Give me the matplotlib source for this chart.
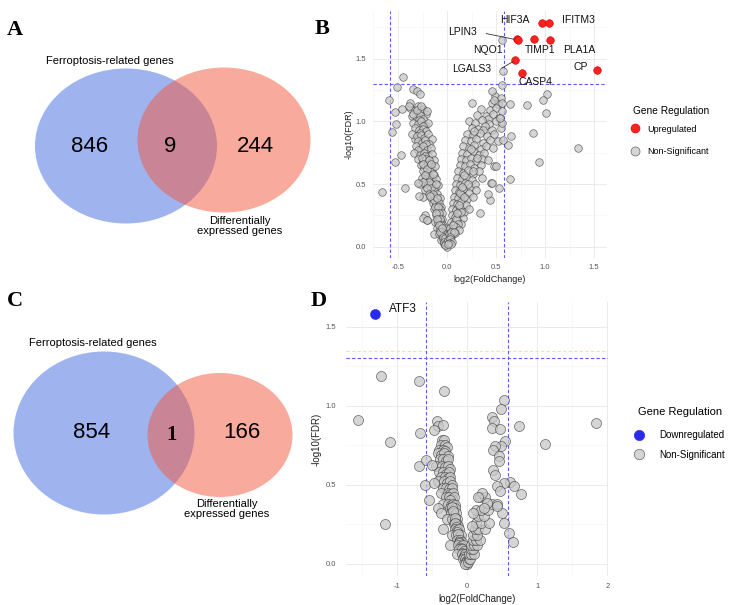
import matplotlib
matplotlib.use("Agg")
import matplotlib.pyplot as plt
from matplotlib.patches import Ellipse
from matplotlib.ticker import MultipleLocator, FormatStrFormatter
from matplotlib.lines import Line2D

plt.rcParams['font.family'] = ['Liberation Sans', 'DejaVu Sans']

# ---------------- data ----------------
venn_a_counts = [846, 9, 244]
venn_c_counts = [854, 1, 166]
set_left = "Ferroptosis-related genes"
set_right = "Differentially\nexpressed genes"

# panel B : upregulated genes
b_up_genes = ["HIF3A", "IFITM3", "LPIN3", "NQO1", "TIMP1", "PLA1A", "LGALS3", "CASP4", "CP"]
b_up_x = [0.973, 1.044, 0.718, 0.725, 0.888, 1.051, 0.697, 0.765, 1.527]
b_up_y = [1.785, 1.785, 1.657, 1.650, 1.657, 1.649, 1.489, 1.383, 1.412]

# panel B : non-significant genes
b_left_arm = [
    (-0.38, 1.11), (-0.33, 1.09), (-0.30, 1.12), (-0.27, 1.08), (-0.24, 1.10), (-0.21, 1.06),
    (-0.36, 1.04), (-0.31, 1.03), (-0.28, 1.05), (-0.25, 1.02), (-0.35, 1.06), (-0.29, 1.01),
    (-0.35, 0.99), (-0.30, 0.98), (-0.27, 1.00), (-0.22, 0.97), (-0.19, 0.99), (-0.24, 0.96),
    (-0.33, 0.95), (-0.29, 0.93), (-0.25, 0.94), (-0.21, 0.92), (-0.28, 0.91), (-0.33, 0.86),
    (-0.36, 0.90), (-0.31, 0.88), (-0.27, 0.89), (-0.23, 0.87), (-0.19, 0.90), (-0.15, 0.86),
    (-0.30, 0.84), (-0.26, 0.83), (-0.22, 0.85), (-0.18, 0.82), (-0.21, 0.82), (-0.25, 0.77),
    (-0.32, 0.80), (-0.27, 0.78), (-0.24, 0.80), (-0.20, 0.77), (-0.16, 0.79), (-0.30, 0.77),
    (-0.34, 0.75), (-0.28, 0.73), (-0.23, 0.75), (-0.19, 0.72), (-0.15, 0.74), (-0.22, 0.72),
    (-0.30, 0.70), (-0.25, 0.68), (-0.21, 0.70), (-0.17, 0.67), (-0.13, 0.69), (-0.26, 0.71),
    (-0.27, 0.65), (-0.23, 0.63), (-0.19, 0.65), (-0.15, 0.62), (-0.12, 0.64), (-0.18, 0.69),
    (-0.24, 0.60), (-0.20, 0.58), (-0.17, 0.60), (-0.13, 0.57), (-0.24, 0.66), (-0.20, 0.62),
    (-0.26, 0.55), (-0.21, 0.54), (-0.17, 0.55), (-0.14, 0.52), (-0.11, 0.54), (-0.16, 0.66),
    (-0.28, 0.50), (-0.19, 0.49), (-0.15, 0.50), (-0.12, 0.47), (-0.09, 0.49), (-0.22, 0.57),
    (-0.22, 0.45), (-0.17, 0.44), (-0.13, 0.45), (-0.10, 0.42), (-0.18, 0.52), (-0.24, 0.52),
    (-0.25, 0.40), (-0.16, 0.39), (-0.12, 0.40), (-0.09, 0.37), (-0.07, 0.39), (-0.14, 0.58),
    (-0.14, 0.35), (-0.11, 0.34), (-0.08, 0.35), (-0.06, 0.32), (-0.16, 0.47), (-0.20, 0.47),
    (-0.13, 0.30), (-0.10, 0.29), (-0.07, 0.30), (-0.05, 0.27), (-0.11, 0.50), (-0.18, 0.42),
    (-0.22, 0.25), (-0.11, 0.25), (-0.08, 0.24), (-0.05, 0.22), (-0.14, 0.42), (-0.13, 0.37),
    (-0.20, 0.21), (-0.12, 0.20), (-0.09, 0.19), (-0.06, 0.20), (-0.04, 0.17), (-0.10, 0.39),
    (-0.10, 0.15), (-0.07, 0.14), (-0.04, 0.13), (-0.02, 0.15), (-0.12, 0.32), (-0.09, 0.32),
    (-0.13, 0.10), (-0.08, 0.10), (-0.05, 0.09), (-0.03, 0.11), (-0.08, 0.27), (-0.11, 0.27),
    (-0.06, 0.05), (-0.04, 0.06), (-0.02, 0.04), (-0.07, 0.22), (-0.10, 0.22), (-0.06, 0.17),
    (-0.03, 0.02), (-0.01, 0.01), (0.00, 0.00), (-0.08, 0.17), (-0.05, 0.12), (-0.07, 0.12),
    (-0.04, 0.08), (-0.02, 0.07), (-0.03, 0.04), (-0.01, 0.03), (-0.02, 0.01), (-0.05, 0.15),
]
b_right_arm = [
    (0.49, 1.20), (0.55, 1.19), (0.46, 1.15), (0.52, 1.14),
    (0.35, 1.10), (0.44, 1.09), (0.50, 1.11), (0.56, 1.08),
    (0.31, 1.05), (0.40, 1.04), (0.47, 1.06), (0.53, 1.03), (0.42, 1.02),
    (0.22, 1.00), (0.29, 0.99), (0.36, 1.01), (0.43, 0.98), (0.50, 1.00),
    (0.25, 0.95), (0.32, 0.94), (0.39, 0.96), (0.46, 0.93), (0.55, 0.95), (0.37, 0.93),
    (0.20, 0.90), (0.27, 0.89), (0.34, 0.91), (0.41, 0.88), (0.48, 0.90), (0.28, 0.92),
    (0.18, 0.85), (0.24, 0.84), (0.30, 0.86), (0.37, 0.83), (0.44, 0.85), (0.52, 0.84),
    (0.16, 0.80), (0.22, 0.79), (0.28, 0.81), (0.35, 0.78), (0.40, 0.80), (0.47, 0.79),
    (0.15, 0.75), (0.20, 0.74), (0.26, 0.76), (0.33, 0.73), (0.38, 0.75), (0.24, 0.78),
    (0.14, 0.70), (0.19, 0.69), (0.24, 0.71), (0.30, 0.68), (0.36, 0.70), (0.42, 0.69),
    (0.13, 0.65), (0.18, 0.64), (0.23, 0.66), (0.28, 0.63), (0.35, 0.65), (0.48, 0.64),
    (0.11, 0.60), (0.16, 0.59), (0.21, 0.61), (0.27, 0.58), (0.33, 0.60), (0.31, 0.71),
    (0.10, 0.55), (0.15, 0.54), (0.19, 0.56), (0.25, 0.53), (0.36, 0.55), (0.26, 0.60),
    (0.09, 0.50), (0.13, 0.49), (0.18, 0.51), (0.23, 0.48), (0.29, 0.50), (0.45, 0.51),
    (0.08, 0.45), (0.12, 0.44), (0.16, 0.46), (0.22, 0.43), (0.30, 0.45), (0.21, 0.50),
    (0.07, 0.40), (0.11, 0.39), (0.15, 0.41), (0.20, 0.38), (0.27, 0.40), (0.17, 0.57),
    (0.06, 0.35), (0.10, 0.34), (0.14, 0.36), (0.19, 0.33), (0.13, 0.43), (0.17, 0.40),
    (0.05, 0.30), (0.09, 0.29), (0.13, 0.31), (0.17, 0.28), (0.22, 0.30), (0.15, 0.48),
    (0.05, 0.25), (0.08, 0.24), (0.12, 0.26), (0.16, 0.23), (0.12, 0.33), (0.14, 0.28),
    (0.04, 0.20), (0.07, 0.19), (0.10, 0.21), (0.14, 0.18), (0.09, 0.22), (0.11, 0.18),
    (0.03, 0.15), (0.06, 0.14), (0.09, 0.16), (0.12, 0.13), (0.10, 0.27), (0.06, 0.17),
    (0.02, 0.10), (0.05, 0.09), (0.08, 0.11), (0.04, 0.12), (0.07, 0.12), (0.03, 0.08),
    (0.01, 0.05), (0.03, 0.06), (0.05, 0.04), (0.02, 0.03), (0.04, 0.02), (0.01, 0.02),
]
b_scatter = [
    (-0.667, 0.436), (-0.531, 0.673), (-0.432, 0.468), (-0.469, 0.732), (-0.558, 0.912),
    (-0.520, 0.981), (-0.531, 1.074), (-0.590, 1.172), (-0.507, 1.271), (-0.446, 1.353),
    (-0.344, 1.260), (-0.310, 1.240), (-0.276, 1.216), (-0.378, 1.150), (-0.456, 1.100),
    (-0.384, 1.125), (-0.303, 1.093), (-0.207, 1.080), (-0.270, 1.120), (-0.293, 0.508),
    (-0.282, 0.402), (-0.173, 0.402), (-0.240, 0.229), (-0.207, 0.215), (0.258, 1.146),
    (0.565, 1.646), (0.568, 1.399), (0.565, 1.293), (0.463, 1.245), (0.480, 1.173),
    (0.560, 1.150), (0.643, 1.141), (0.813, 1.133), (1.024, 1.218), (0.976, 1.168),
    (1.007, 1.066), (0.874, 0.907), (0.653, 0.886), (0.626, 0.814), (0.935, 0.673),
    (1.340, 0.787), (0.643, 0.543), (0.530, 0.468), (0.440, 0.375), (0.337, 0.269),
    (0.456, 0.508), (0.558, 0.987), (0.541, 1.027), (0.500, 0.641), (0.422, 0.420),
    (0.575, 0.854),
]

# panel D : downregulated gene
d_down_genes = ["ATF3"]
d_down_x = [-1.314]
d_down_y = [1.58]

# panel D : non-significant genes
d_left_arm = [
    (-0.36, 0.78), (-0.33, 0.78), (-0.34, 0.74), (-0.36, 0.68), (-0.31, 0.68),
    (-0.38, 0.75), (-0.32, 0.75), (-0.29, 0.74), (-0.31, 0.64), (-0.29, 0.60),
    (-0.40, 0.72), (-0.35, 0.72), (-0.31, 0.71), (-0.33, 0.56), (-0.28, 0.57),
    (-0.42, 0.70), (-0.37, 0.69), (-0.33, 0.70), (-0.28, 0.68), (-0.27, 0.50),
    (-0.39, 0.66), (-0.34, 0.66), (-0.30, 0.65), (-0.27, 0.66), (-0.28, 0.53),
    (-0.45, 0.62), (-0.36, 0.62), (-0.32, 0.61), (-0.28, 0.62), (-0.25, 0.60),
    (-0.40, 0.58), (-0.34, 0.58), (-0.30, 0.57), (-0.26, 0.58), (-0.24, 0.46),
    (-0.37, 0.55), (-0.31, 0.55), (-0.27, 0.54), (-0.24, 0.55), (-0.26, 0.44),
    (-0.42, 0.52), (-0.33, 0.52), (-0.29, 0.51), (-0.25, 0.52), (-0.22, 0.50),
    (-0.35, 0.48), (-0.30, 0.48), (-0.26, 0.47), (-0.22, 0.48), (-0.23, 0.43),
    (-0.38, 0.45), (-0.28, 0.45), (-0.24, 0.44), (-0.20, 0.45), (-0.22, 0.40),
    (-0.30, 0.42), (-0.26, 0.42), (-0.22, 0.41), (-0.19, 0.42), (-0.24, 0.40),
    (-0.34, 0.38), (-0.27, 0.38), (-0.23, 0.37), (-0.20, 0.38), (-0.17, 0.37),
    (-0.42, 0.35), (-0.25, 0.35), (-0.21, 0.34), (-0.18, 0.35), (-0.21, 0.36),
    (-0.38, 0.32), (-0.23, 0.32), (-0.19, 0.31), (-0.16, 0.32), (-0.20, 0.33),
    (-0.29, 0.28), (-0.21, 0.28), (-0.17, 0.27), (-0.14, 0.28), (-0.18, 0.29),
    (-0.19, 0.25), (-0.15, 0.25), (-0.13, 0.24), (-0.17, 0.26), (-0.16, 0.23),
    (-0.35, 0.22), (-0.18, 0.22), (-0.14, 0.21), (-0.11, 0.22), (-0.15, 0.20),
    (-0.22, 0.18), (-0.16, 0.18), (-0.12, 0.17), (-0.09, 0.18), (-0.13, 0.19),
    (-0.14, 0.15), (-0.10, 0.15), (-0.08, 0.14), (-0.12, 0.14), (-0.11, 0.13),
    (-0.24, 0.12), (-0.13, 0.12), (-0.09, 0.11), (-0.06, 0.12), (-0.09, 0.10),
    (-0.11, 0.09), (-0.07, 0.09), (-0.05, 0.08), (-0.07, 0.07), (-0.06, 0.05),
    (-0.15, 0.06), (-0.08, 0.06), (-0.05, 0.05), (-0.03, 0.06), (-0.04, 0.04),
    (-0.06, 0.03), (-0.03, 0.03), (-0.01, 0.02), (0.00, 0.00), (-0.02, 0.01),
    (-0.03, 0.00), (0.01, 0.01),
]
d_right_arm = [
    (0.02, 0.03), (0.04, 0.03), (0.03, 0.06), (0.06, 0.06), (0.10, 0.06),
    (0.05, 0.09), (0.08, 0.09), (0.06, 0.12), (0.10, 0.12), (0.14, 0.12),
    (0.08, 0.15), (0.12, 0.15), (0.18, 0.15), (0.09, 0.18), (0.14, 0.18),
    (0.11, 0.22), (0.16, 0.22), (0.25, 0.22), (0.13, 0.26), (0.20, 0.26), (0.31, 0.26),
    (0.16, 0.30), (0.24, 0.30), (0.12, 0.34), (0.20, 0.34), (0.29, 0.34),
    (0.35, 0.38), (0.42, 0.38), (0.18, 0.42), (0.26, 0.42),
]
d_scatter = [
    (-1.562, 0.907), (-1.229, 1.186), (-1.100, 0.768), (-1.167, 0.253), (-0.686, 1.154),
    (-0.671, 0.827), (-0.690, 0.616), (-0.338, 1.095), (-0.433, 0.901), (-0.410, 0.873),
    (-0.348, 0.880), (-0.480, 0.848), (-0.586, 0.654), (-0.600, 0.500), (-0.552, 0.405),
    (-0.505, 0.627), (-0.480, 0.510),
    (0.519, 1.038), (0.481, 0.981), (0.357, 0.928), (0.376, 0.901), (0.357, 0.859),
    (0.471, 0.852), (0.533, 0.774), (0.486, 0.743), (0.400, 0.743), (0.362, 0.717),
    (0.452, 0.679), (0.448, 0.652), (0.367, 0.591), (0.400, 0.563), (0.614, 0.515),
    (0.662, 0.494), (0.519, 0.511), (0.424, 0.489), (0.471, 0.458), (0.771, 0.441),
    (0.733, 0.873), (1.114, 0.759), (1.843, 0.890), (0.590, 0.194), (0.652, 0.135),
    (0.524, 0.257), (0.495, 0.321), (0.424, 0.363), (0.210, 0.447), (0.148, 0.422),
    (0.281, 0.384), (0.233, 0.352), (0.090, 0.321), (0.067, 0.236),
]

fc_cut = 0.585   # log2(1.5)
fdr_cut = 1.301  # -log10(0.05)

W, H = 734, 605
fig = plt.figure(figsize=(W / 100, H / 100), dpi=100)

def box(x0, y0, x1, y1):
    return [x0 / W, 1 - y1 / H, (x1 - x0) / W, (y1 - y0) / H]

# ---------------- Venn panels (A, C) ----------------
vax = fig.add_axes([0, 0, 1, 1])
vax.set_xlim(0, W)
vax.set_ylim(H, 0)
vax.axis('off')

blue = '#4169e1'
red = '#f3573c'

def venn(cb, wb, hb, cr, wr, hr, counts, num_pos, lab_top, lab_bot, serif_mid):
    vax.add_patch(Ellipse(cb, wb, hb, facecolor=blue, alpha=0.5, lw=0))
    vax.add_patch(Ellipse(cr, wr, hr, facecolor=red, alpha=0.5, lw=0))
    for i, (n, p) in enumerate(zip(counts, num_pos)):
        if i == 1 and serif_mid:
            vax.text(p[0], p[1], str(n), ha='center', va='center', fontsize=15,
                     family='Liberation Serif', fontweight='bold')
        else:
            vax.text(p[0], p[1], str(n), ha='center', va='center', fontsize=16)
    vax.text(lab_top[0], lab_top[1], set_left, ha='center', va='center', fontsize=8)
    vax.text(lab_bot[0], lab_bot[1], set_right, ha='center', va='center', fontsize=8,
             linespacing=1.0)

venn((126, 146), 182, 155, (224, 140), 173, 145, venn_a_counts,
     [(90, 146), (170, 146), (255, 146)], (110, 61), (240, 226), False)
venn((104, 433), 181, 163, (220, 435), 145, 124, venn_c_counts,
     [(92, 433), (172, 435), (242, 433)], (93, 343), (227, 509), True)

for lab, (px, py) in zip("ABCD", [(15, 30), (322, 29), (15, 301), (319, 301)]):
    vax.text(px, py, lab, ha='center', va='center', fontsize=16,
             family='Liberation Serif', fontweight='bold')

# ---------------- volcano helper ----------------
def style_axes(ax, xmaj, xmin, ymaj, ymin, xfmt, tick_fs, lab_fs, xpad, ypad, ylpad):
    ax.set_facecolor('white')
    for s in ax.spines.values():
        s.set_visible(False)
    ax.xaxis.set_major_locator(MultipleLocator(xmaj))
    ax.xaxis.set_minor_locator(MultipleLocator(xmin))
    ax.yaxis.set_major_locator(MultipleLocator(ymaj))
    ax.yaxis.set_minor_locator(MultipleLocator(ymin))
    ax.xaxis.set_major_formatter(FormatStrFormatter(xfmt))
    ax.yaxis.set_major_formatter(FormatStrFormatter('%.1f'))
    ax.grid(which='major', color='#e8e8e8', lw=0.6)
    ax.grid(which='minor', color='#f3f3f3', lw=0.4)
    ax.set_axisbelow(True)
    ax.tick_params(which='both', length=0, labelsize=tick_fs, colors='#555555')
    ax.tick_params(axis='x', pad=xpad)
    ax.tick_params(axis='y', pad=ypad)
    ax.set_xlabel('log2(FoldChange)', fontsize=lab_fs, color='#222222', labelpad=3)
    ax.set_ylabel('-log10(FDR)', fontsize=lab_fs, color='#222222', labelpad=ylpad)

grey_face = '#c8c8c8'
grey_edge = '#3a3a3a'

# ---------------- panel B ----------------
axb = fig.add_axes(box(373, 11, 607, 258))
ns_b = b_left_arm + b_right_arm + b_scatter
axb.scatter([p[0] for p in ns_b], [p[1] for p in ns_b], s=30, facecolor=grey_face,
            edgecolor=grey_edge, linewidth=0.5, alpha=0.75, zorder=2)
axb.scatter(b_up_x, b_up_y, s=30, facecolor='#ff2020', edgecolor='#cc0000',
            linewidth=0.4, zorder=3)
axb.axhline(fdr_cut, color='#5a5aff', ls=(0, (3, 2)), lw=0.8, zorder=1)
for v in (-fc_cut, fc_cut):
    axb.axvline(v, color='#5a5aff', ls=(0, (3, 2)), lw=0.8, zorder=1)
axb.set_xlim(-0.755, 1.632)
axb.set_ylim(-0.09, 1.88)
style_axes(axb, 0.5, 0.25, 0.5, 0.25, '%.1f', 5.5, 6.5, 4, 5, 1)

b_text_pos = {
    "HIF3A": (0.69, 1.805), "IFITM3": (1.34, 1.805), "LPIN3": (0.16, 1.71),
    "NQO1": (0.42, 1.57), "TIMP1": (0.95, 1.57), "PLA1A": (1.35, 1.57),
    "LGALS3": (0.25, 1.42), "CASP4": (0.90, 1.31), "CP": (1.36, 1.43),
}
for g in b_up_genes:
    tx, ty = b_text_pos[g]
    axb.text(tx, ty, g, fontsize=7.5, ha='center', va='center', color='#111111', zorder=4)
axb.plot([0.40, 0.68], [1.70, 1.655], color='#333333', lw=0.6, zorder=4)
axb.plot([0.56, 0.67], [1.425, 1.475], color='#333333', lw=0.6, zorder=4)

hb = [Line2D([], [], marker='o', ls='', markersize=6.5, markerfacecolor='#ff2020',
             markeredgecolor='#cc0000', markeredgewidth=0.4),
      Line2D([], [], marker='o', ls='', markersize=6.5, markerfacecolor=grey_face,
             markeredgecolor=grey_edge, markeredgewidth=0.5, alpha=0.75)]
fig.text(633 / W, 1 - 111 / H, 'Gene Regulation', fontsize=7.3, ha='left', va='center')
fig.legend(hb, ['Upregulated', 'Non-Significant'], loc='center left',
           bbox_to_anchor=(632 / W, 1 - 140.5 / H), frameon=False, fontsize=6.5,
           labelspacing=1.55, handlelength=0.6, handletextpad=1.14, borderpad=0,
           borderaxespad=0)

# ---------------- panel D ----------------
axd = fig.add_axes(box(346, 302, 608, 576))
ns_d = d_left_arm + d_right_arm + d_scatter
axd.scatter([p[0] for p in ns_d], [p[1] for p in ns_d], s=52, facecolor=grey_face,
            edgecolor=grey_edge, linewidth=0.5, alpha=0.75, zorder=2)
axd.scatter(d_down_x, d_down_y, s=52, facecolor='#2a2af0', edgecolor='#2a2af0',
            linewidth=0.4, zorder=3)
axd.axhline(1.342, color='#e8e2b8', ls=(0, (3, 2)), lw=0.8, zorder=1)
axd.axhline(fdr_cut, color='#5a5aff', ls=(0, (3, 2)), lw=0.8, zorder=1)
for v in (-fc_cut, fc_cut):
    axd.axvline(v, color='#5a5aff', ls=(0, (3, 2)), lw=0.8, zorder=1)
axd.set_xlim(-1.73, 2.01)
axd.set_ylim(-0.078, 1.655)
style_axes(axd, 1, 0.5, 0.5, 0.25, '%d', 5.5, 7, 5, 7, 3)
for g, x, y in zip(d_down_genes, d_down_x, d_down_y):
    axd.text(x + 0.2, y + 0.03, g, fontsize=8.5, ha='left', va='center', color='#111111')

hd = [Line2D([], [], marker='o', ls='', markersize=7.5, markerfacecolor='#2a2af0',
             markeredgecolor='#2a2af0', markeredgewidth=0.4),
      Line2D([], [], marker='o', ls='', markersize=7.5, markerfacecolor=grey_face,
             markeredgecolor=grey_edge, markeredgewidth=0.5, alpha=0.75)]
fig.text(638 / W, 1 - 412 / H, 'Gene Regulation', fontsize=8, ha='left', va='center')
fig.legend(hd, ['Downregulated', 'Non-Significant'], loc='center left',
           bbox_to_anchor=(636 / W, 1 - 445 / H), frameon=False, fontsize=7,
           labelspacing=1.0, handlelength=0.6, handletextpad=1.75, borderpad=0,
           borderaxespad=0)

fig.savefig('out.png', dpi=100)
